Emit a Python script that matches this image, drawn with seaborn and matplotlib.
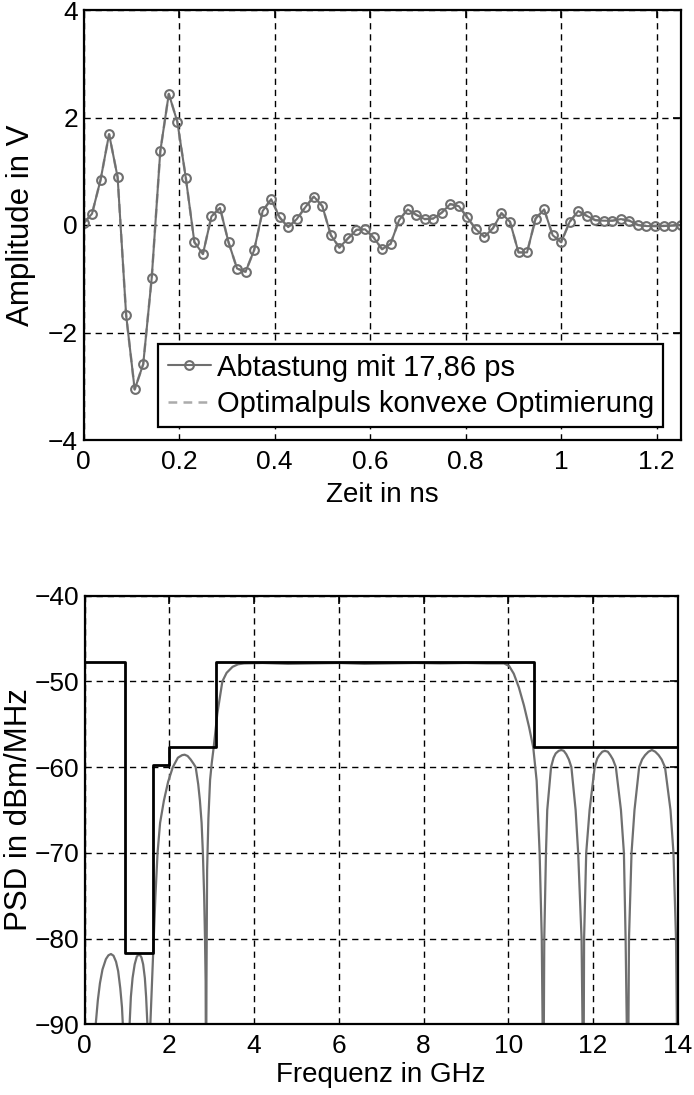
import numpy as np
import pandas as pd
import matplotlib
matplotlib.use("Agg")
import matplotlib.pyplot as plt
import seaborn as sns

# ---------------- data: top panel (samples every 17.86 ps) ----------------
sample_step_ns = 0.01786
amplitude_v = [
    0.03, 0.21, 0.84, 1.69, 0.89, -1.68, -3.06, -2.59, -0.98, 1.37,
    2.44, 1.92, 0.87, -0.32, -0.54, 0.16, 0.32, -0.32, -0.81, -0.87,
    -0.47, 0.26, 0.48, 0.14, -0.04, 0.11, 0.33, 0.53, 0.35, -0.19,
    -0.42, -0.25, -0.09, -0.08, -0.23, -0.45, -0.35, 0.09, 0.29, 0.19,
    0.11, 0.12, 0.23, 0.39, 0.35, 0.14, -0.08, -0.22, -0.06, 0.22,
    0.06, -0.51, -0.51, 0.12, 0.29, -0.19, -0.32, 0.06, 0.26, 0.17,
    0.09, 0.08, 0.08, 0.11, 0.08, 0.00, -0.02, -0.02, -0.02, -0.01,
    0.00,
]
time_ns = [i * sample_step_ns for i in range(len(amplitude_v))]

# ---------------- data: bottom panel ----------------
mask_freq_ghz = [0.0, 0.96, 1.61, 1.99, 3.1, 10.6, 14.0]
mask_level_db = [-47.7, -81.7, -59.7, -57.7, -47.7, -57.7, -57.7]

psd_freq_ghz = [
    0.20, 0.26, 0.31, 0.36, 0.42, 0.50, 0.56, 0.62, 0.68, 0.74, 0.79, 0.84, 0.88, 0.90,
    0.98,
    1.06, 1.09, 1.13, 1.18, 1.23, 1.29, 1.34, 1.38, 1.42, 1.45, 1.48,
    1.515,
    1.55, 1.59, 1.63, 1.67, 1.72, 1.78, 1.87, 1.97, 2.08, 2.20, 2.30, 2.36, 2.43, 2.50,
    2.57, 2.62, 2.68, 2.72, 2.76, 2.79, 2.82, 2.84, 2.855,
    2.865,
    2.875, 2.89, 2.92, 2.96, 3.00, 3.05, 3.13, 3.25, 3.35, 3.49, 3.62, 3.76,
    4.2, 4.8, 5.4, 6.0, 6.6, 7.2, 7.8, 8.4, 9.0, 9.5, 9.9,
    10.02, 10.13, 10.25, 10.37, 10.49, 10.59, 10.67, 10.74, 10.79,
    10.83,
    10.85, 10.89, 10.92, 11.01, 11.07, 11.12, 11.19, 11.25, 11.31, 11.37, 11.43,
    11.49, 11.59, 11.65, 11.73,
    11.775,
    11.79, 11.84, 11.92, 12.04, 12.10, 12.15, 12.22, 12.28, 12.35, 12.41, 12.47,
    12.54, 12.66, 12.73, 12.77,
    12.825,
    12.85, 12.91, 12.98, 13.09, 13.16, 13.23, 13.31, 13.39, 13.47, 13.55, 13.62,
    13.70, 13.83, 13.90, 13.96,
    14.0,
]
psd_level_db = [
    -100, -90, -87.2, -85.2, -83.6, -82.4, -81.95, -81.8, -82.0, -82.7, -83.8, -85.8, -88.0, -90,
    -100,
    -90, -86.8, -84.6, -83.0, -82.1, -81.8, -82.2, -83.0, -84.6, -86.8, -90,
    -100,
    -90, -85, -80, -75, -70, -66.5, -63.9, -61.7, -60.0, -58.9, -58.6, -58.55, -58.7, -59.1,
    -59.6, -60.0, -62.0, -63.9, -66.5, -70, -75, -80, -85,
    -100,
    -85, -72, -66, -61.5, -59.5, -57.5, -53.8, -50.0, -49.0, -48.3, -48.0, -47.9,
    -47.85, -47.95, -47.9, -47.85, -47.95, -47.9, -47.85, -47.9, -47.85, -47.9, -47.9,
    -48.2, -49.1, -50.7, -52.8, -55.3, -57.7, -61.6, -70, -79.8,
    -100,
    -80, -70, -65, -60, -58.9, -58.4, -58.1, -58.0, -58.1, -58.5, -59.1,
    -60, -65, -70, -80,
    -100,
    -80, -70, -65, -60, -59.0, -58.6, -58.2, -58.1, -58.2, -58.6, -59.1,
    -60, -65, -70, -80,
    -100,
    -80, -70, -65, -60, -59.1, -58.6, -58.2, -58.0, -58.2, -58.6, -59.1,
    -60, -65, -70, -80,
    -100,
]

top_xticks = [0, 0.2, 0.4, 0.6, 0.8, 1.0, 1.2]
top_xticklabels = ["0", "0.2", "0.4", "0.6", "0.8", "1", "1.2"]
top_yticks = [-4, -2, 0, 2, 4]
bot_xticks = [0, 2, 4, 6, 8, 10, 12, 14]
bot_yticks = [-90, -80, -70, -60, -50, -40]

# ---------------- styling ----------------
sns.set_style("white")
plt.rcParams["font.family"] = ["Liberation Sans", "DejaVu Sans"]
plt.rcParams["axes.unicode_minus"] = True
for k in ("text.color", "axes.labelcolor", "xtick.color", "ytick.color",
          "xtick.labelcolor", "ytick.labelcolor"):
    plt.rcParams[k] = "black"

FS_TICK = 19
FS_XLABEL = 20
FS_YLABEL = 22.5
FS_LEG = 21
GRAY = "#6f6f6f"
LIGHT = "#ababab"

fig = plt.figure(figsize=(6.94, 10.95), dpi=100)
ax1 = fig.add_axes([83.5 / 694, (1095 - 440) / 1095, 597 / 694, 430 / 1095])
ax2 = fig.add_axes([84.7 / 694, (1095 - 1024.3) / 1095, 593 / 694, 428.6 / 1095])

top_df = pd.DataFrame({"t": time_ns, "a": amplitude_v})
sns.lineplot(data=top_df, x="t", y="a", ax=ax1, color=LIGHT, linestyle=(0, (3.5, 2.5)),
             linewidth=1.8, estimator=None, sort=False,
             label="Optimalpuls konvexe Optimierung", zorder=3)
sns.lineplot(data=top_df, x="t", y="a", ax=ax1, color=GRAY, linewidth=1.5,
             marker="o", markersize=6.3, markerfacecolor="none", markeredgecolor=GRAY,
             markeredgewidth=1.5, estimator=None, sort=False,
             label="Abtastung mit 17,86 ps", zorder=4)

psd_df = pd.DataFrame({"f": psd_freq_ghz, "p": psd_level_db})
sns.lineplot(data=psd_df, x="f", y="p", ax=ax2, color=GRAY, linewidth=1.6,
             estimator=None, sort=False, zorder=3)
mask_df = pd.DataFrame({"f": mask_freq_ghz, "m": mask_level_db})
sns.lineplot(data=mask_df, x="f", y="m", ax=ax2, color="black", linewidth=2.0,
             drawstyle="steps-post", estimator=None, sort=False, zorder=4)

for ax in (ax1, ax2):
    ax.grid(True, color="black", linestyle=(0, (4.5, 3.5)), linewidth=1.0)
    ax.set_axisbelow(True)
    for s in ax.spines.values():
        s.set_visible(True)
        s.set_color("black")
        s.set_linewidth(1.6)
        s.set_zorder(6)
    ax.tick_params(direction="in", top=True, right=True, length=6, width=1.2,
                   labelsize=FS_TICK, colors="black")
    ax.tick_params(axis="x", pad=7)
    ax.tick_params(axis="y", pad=4)

ax1.set_xlim(0, 1.25)
ax1.set_ylim(-4, 4)
ax1.set_xticks(top_xticks)
ax1.set_xticklabels(top_xticklabels)
ax1.set_yticks(top_yticks)
ax1.set_xlabel("Zeit in ns", fontsize=FS_XLABEL)
ax1.set_ylabel("Amplitude in V", fontsize=FS_YLABEL)
ax1.xaxis.set_label_coords(0.5, -0.098)
ax1.yaxis.set_label_coords(-0.0796, 0.5)

handles, labels = ax1.get_legend_handles_labels()
order = [labels.index("Abtastung mit 17,86 ps"), labels.index("Optimalpuls konvexe Optimierung")]
leg = ax1.legend([handles[i] for i in order], [labels[i] for i in order],
                 loc="lower right", bbox_to_anchor=(0.971, 0.030),
                 fontsize=FS_LEG, frameon=True, fancybox=False, framealpha=1,
                 edgecolor="black", handlelength=1.5, handletextpad=0.18,
                 borderpad=0.32, labelspacing=0.28, borderaxespad=0)
leg.get_frame().set_linewidth(1.6)
leg.set_zorder(10)

ax2.set_xlim(0, 14)
ax2.set_ylim(-90, -40)
ax2.set_xticks(bot_xticks)
ax2.set_yticks(bot_yticks)
ax2.set_xlabel("Frequenz in GHz", fontsize=FS_XLABEL)
ax2.set_ylabel("PSD in dBm/MHz", fontsize=FS_YLABEL)
ax2.xaxis.set_label_coords(0.5, -0.088)
ax2.yaxis.set_label_coords(-0.0855, 0.5)
if ax2.get_legend() is not None:
    ax2.get_legend().remove()

fig.savefig("out.png", dpi=100)
